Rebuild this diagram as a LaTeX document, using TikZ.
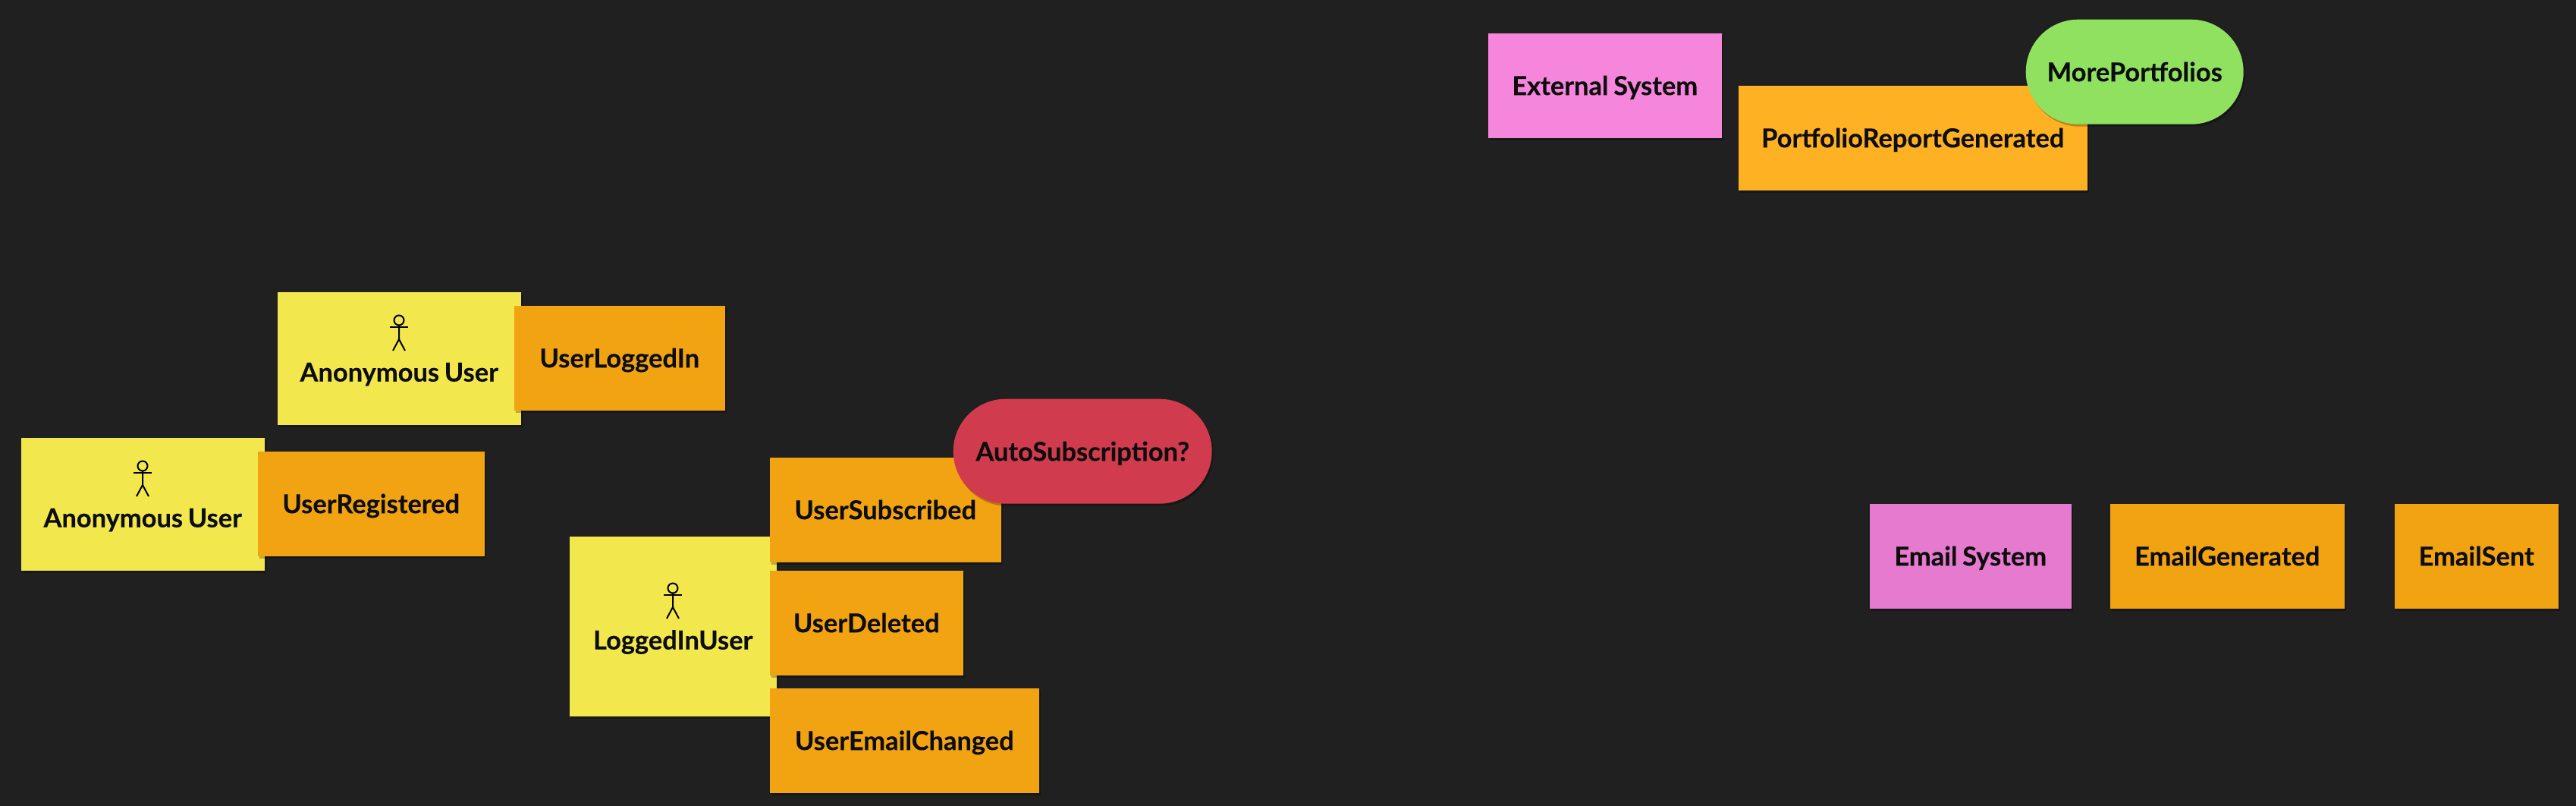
\documentclass[tikz,border=0pt]{standalone}
\usepackage{fontspec}
\setmainfont[WordSpace=0.8,BoldFeatures={FakeBold=0.25}]{Lato}
\usetikzlibrary{shadows}
\definecolor{boardbg}{HTML}{202020}
\definecolor{actoryellow}{HTML}{F2E84D}
\definecolor{eventorange}{HTML}{F1A312}
\definecolor{eventamber}{HTML}{FEB123}
\definecolor{systempink}{HTML}{F586DC}
\definecolor{systemmauve}{HTML}{E67ACE}
\definecolor{hotred}{HTML}{D13B4E}
\definecolor{policygreen}{HTML}{8FE15F}
\tikzset{
  sticky/.style={anchor=north west, minimum height=1.38cm, inner sep=0pt, text=black!95,
    xshift=-0.01cm, yshift=0.01cm,
    font=\fontsize{9.8}{11}\bfseries\selectfont, text height=0.33cm, text depth=0.08cm,
    drop shadow={shadow xshift=0.02cm, shadow yshift=-0.03cm, opacity=0.25, fill=black}},
  actorbox/.style={sticky, fill=actoryellow, minimum height=1.75cm, minimum width=3.21cm,
    text height=0.71cm, text depth=0.1cm},
  eventbox/.style={sticky, fill=eventorange},
  systembox/.style={sticky, fill=systempink},
  pill/.style={sticky, rounded corners=0.69cm},
  actorman/.pic={
    \draw[line width=0.02cm, black] (0,0.065) circle (0.065);
    \draw[line width=0.02cm, black] (-0.12,-0.025) -- (0.12,-0.025);
    \draw[line width=0.02cm, black] (0,0) -- (0,-0.185) -- (-0.08,-0.335);
    \draw[line width=0.02cm, black] (0,-0.185) -- (0.08,-0.335);
  }
}
\begin{document}
\begin{tikzpicture}

\useasboundingbox (0,0) rectangle (33.96,-10.62);
\fill[boardbg] (0,0) rectangle (33.96,-10.62);

% actors
\node[actorbox] (anonTop) at (3.66,-3.85) {Anonymous User};
\pic at (5.26,-4.285) {actorman};
\node[actorbox] (anonLeft) at (0.28,-5.77) {Anonymous User};
\pic at (1.88,-6.205) {actorman};
\node[actorbox, minimum width=2.73cm, minimum height=2.37cm] (loggedUser) at (7.51,-7.07) {LoggedInUser};
\pic at (8.87,-7.815) {actorman};

% user events
\node[eventbox, minimum width=2.78cm] (loggedIn) at (6.78,-4.03) {UserLoggedIn};
\node[eventbox, minimum width=2.99cm] (registered) at (3.40,-5.95) {UserRegistered};
\node[eventbox, minimum width=3.05cm] (subscribed) at (10.15,-6.03) {UserSubscribed};
\node[eventbox, minimum width=2.55cm] (deleted) at (10.15,-7.52) {UserDeleted};
\node[eventbox, minimum width=3.55cm] (emailChanged) at (10.15,-9.07) {UserEmailChanged};
\node[pill, fill=hotred, minimum width=3.41cm] (autoSub) at (12.57,-5.26) {AutoSubscription?};

% portfolio
\node[systembox, minimum width=3.08cm] (external) at (19.62,-0.44) {External System};
\node[eventbox, fill=eventamber, minimum width=4.60cm] (report) at (22.92,-1.13) {PortfolioReportGenerated};
\node[pill, fill=policygreen, minimum width=2.87cm] (morePortfolios) at (26.71,-0.26) {MorePortfolios};

% email
\node[systembox, fill=systemmauve, minimum width=2.66cm] (emailSystem) at (24.65,-6.64) {Email System};
\node[eventbox, minimum width=3.09cm] (emailGenerated) at (27.82,-6.64) {EmailGenerated};
\node[eventbox, minimum width=2.16cm] (emailSent) at (31.57,-6.64) {EmailSent};

\end{tikzpicture}
\end{document}
